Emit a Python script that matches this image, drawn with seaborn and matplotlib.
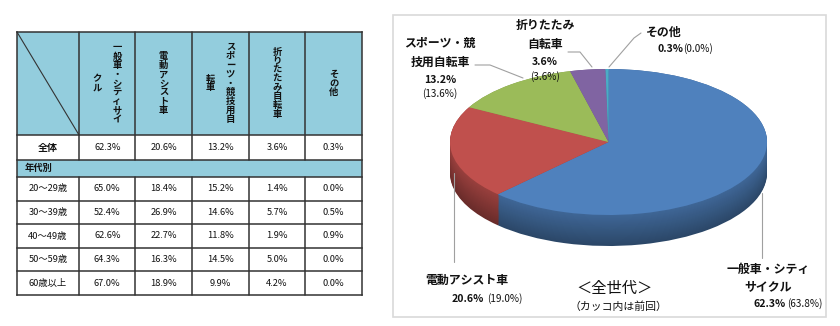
import numpy as np
import pandas as pd
import matplotlib
matplotlib.use("Agg")
import matplotlib.pyplot as plt
import seaborn as sns
from matplotlib.colors import ListedColormap, to_rgb
from matplotlib.patches import Rectangle

# ---------------- data ----------------
categories = ["一般車・シティサイクル", "電動アシスト車", "スポーツ・競技用自転車", "折りたたみ自転車", "その他"]
header_lines = [["一般車・シティサイ", "クル"], ["電動アシスト車"], ["スポーツ・競技用自", "転車"],
                ["折りたたみ自転車"], ["その他"]]
pie_names = ["一般車・シティ\nサイクル", "電動アシスト車", "スポーツ・競\n技用自転車", "折りたたみ\n自転車", "その他"]
overall = [62.3, 20.6, 13.2, 3.6, 0.3]
previous = [63.8, 19.0, 13.6, 3.6, 0.0]
age_groups = ["20～29歳", "30～39歳", "40～49歳", "50～59歳", "60歳以上"]
age_20s = [65.0, 18.4, 15.2, 1.4, 0.0]
age_30s = [52.4, 26.9, 14.6, 5.7, 0.5]
age_40s = [62.6, 22.7, 11.8, 1.9, 0.9]
age_50s = [64.3, 16.3, 14.5, 5.0, 0.0]
age_60s = [67.0, 18.9, 9.9, 4.2, 0.0]
row_all_label = "全体"
section_label = "年代別"
title = "＜全世代＞"
subtitle = "（カッコ内は前回）"

pie_colors = ["#4F81BD", "#C0504D", "#9BBB59", "#8064A2", "#4BACC6"]

# ---------------- setup ----------------
sns.set_theme(style="white")
plt.rcParams["font.family"] = ["Noto Sans CJK JP", "DejaVu Sans"]

W, H = 840, 326
fig = plt.figure(figsize=(W / 100, H / 100), dpi=100)
fig.patch.set_facecolor("white")


def px_axes(x0, y0, x1, y1):
    return fig.add_axes([x0 / W, 1 - y1 / H, (x1 - x0) / W, (y1 - y0) / H])


bg = px_axes(0, 0, W, H)
bg.set_xlim(0, W)
bg.set_ylim(H, 0)
bg.axis("off")

# ---------------- table ----------------
col_edges = [17, 79, 135, 192, 249, 305, 362]
y_top, y_head, y_all, y_age, y_bot = 32, 135, 160, 177, 295
row_h = (y_bot - y_age) / len(age_groups)
LC = "#333333"
HEAD = "#93CDDD"
LW = 1.1
TFS = 6.7
TXT = "#111111"

bg.add_patch(Rectangle((col_edges[0], y_top), col_edges[-1] - col_edges[0], y_head - y_top,
                       fc=HEAD, ec="none"))
bg.add_patch(Rectangle((col_edges[0], y_all), col_edges[-1] - col_edges[0], y_age - y_all,
                       fc=HEAD, ec="none"))

# vertical header text
for j, lines in enumerate(header_lines):
    cx = (col_edges[j + 1] + col_edges[j + 2]) / 2
    n = len(lines)
    sp = 20
    for k, line in enumerate(lines):
        x = cx + (n - 1) / 2 * sp - k * sp
        bg.text(x, (y_top + y_head) / 2, "\n".join(line), ha="center", va="center",
                fontsize=TFS, linespacing=0.98, color=TXT, fontweight="bold")

# label column
lx = (col_edges[0] + col_edges[1]) / 2
bg.text(lx, (y_head + y_all) / 2, row_all_label, ha="center", va="center", fontsize=TFS + 0.5,
        color=TXT, fontweight="bold")
bg.text(col_edges[0] + 8, (y_all + y_age) / 2, section_label, ha="left", va="center",
        fontsize=TFS, color=TXT, fontweight="bold")
for i, g in enumerate(age_groups):
    bg.text(lx, y_age + (i + 0.5) * row_h, g, ha="center", va="center", fontsize=TFS,
            color=TXT)

# data cells via seaborn heatmaps
white = ListedColormap(["white"])
df_all = pd.DataFrame([overall], index=[row_all_label], columns=categories)
df_age = pd.DataFrame([age_20s, age_30s, age_40s, age_50s, age_60s], index=age_groups, columns=categories)
for df, (y0, y1) in [(df_all, (y_head, y_all)), (df_age, (y_age, y_bot))]:
    axh = px_axes(col_edges[1], y0, col_edges[-1], y1)
    annot = df.map(lambda v: f"{v:.1f}%").values
    sns.heatmap(df, ax=axh, cmap=white, cbar=False, annot=annot, fmt="",
                linewidths=0, xticklabels=False, yticklabels=False,
                annot_kws={"fontsize": TFS, "color": TXT})
    axh.set_xlabel("")
    axh.set_ylabel("")

# ---------------- 3D-style pie ----------------
pie_ax = px_axes(450, 69, 767, 246)
thick = 2 * 31 / 146
layers = 34


def shade(c, f):
    return tuple(np.clip(np.array(to_rgb(c)) * f, 0, 1))


for i, k in enumerate(np.linspace(thick, 0, layers)):
    f = 0.55 + 0.25 * (i / (layers - 1))
    pie_ax.pie(overall, colors=[shade(c, f) for c in pie_colors], startangle=90,
               counterclock=False, center=(0, -k), radius=1,
               wedgeprops=dict(linewidth=0))
pie_ax.pie(overall, colors=pie_colors, startangle=90, counterclock=False,
           center=(0, 0), radius=1, wedgeprops=dict(linewidth=0))
pie_ax.set_aspect("auto")
pie_ax.set_xlim(-1, 1)
pie_ax.set_ylim(-1 - thick, 1)
pie_ax.axis("off")
pie_ax.patch.set_alpha(0)

# ---------------- overlay: table grid, frame, leaders, labels ----------------
ov = px_axes(0, 0, W, H)
ov.set_xlim(0, W)
ov.set_ylim(H, 0)
ov.axis("off")
ov.patch.set_alpha(0)

hlines = [y_top, y_head, y_all, y_age] + [y_age + i * row_h for i in range(1, len(age_groups) + 1)]
for y in hlines:
    ov.plot([col_edges[0], col_edges[-1]], [y, y], color=LC, lw=LW, solid_capstyle="projecting")
for i, x in enumerate(col_edges):
    if i in (0, len(col_edges) - 1):
        ov.plot([x, x], [y_top, y_bot], color=LC, lw=LW, solid_capstyle="projecting")
    else:
        ov.plot([x, x], [y_top, y_all], color=LC, lw=LW)
        ov.plot([x, x], [y_age, y_bot], color=LC, lw=LW)
ov.plot([col_edges[0], col_edges[1]], [y_top, y_head], color=LC, lw=0.8)

ov.add_patch(Rectangle((393, 15), 826 - 393, 317 - 15, fc="none", ec="#D9D9D9", lw=1.2))

LEAD = "#A0A0A0"
ov.plot([475, 490, 523], [65, 65, 78], color=LEAD, lw=0.8)
ov.plot([568, 580, 592], [52, 52, 67], color=LEAD, lw=0.8)
ov.plot([641, 634, 609], [33, 38, 67], color=LEAD, lw=0.8)
ov.plot([454, 454], [173, 262], color=LEAD, lw=0.8)
ov.plot([762, 762], [193, 258], color=LEAD, lw=0.8)

NFS, VFS, PFS = 8.6, 7.6, 7.2
# スポーツ・競技用自転車
ov.text(440, 53, pie_names[2], ha="center", va="center", fontsize=NFS, fontweight="bold",
        linespacing=1.6, color=TXT)
ov.text(440, 80, f"{overall[2]:.1f}%", ha="center", va="center", fontsize=VFS, fontweight="bold", color=TXT)
ov.text(440, 94, f"({previous[2]:.1f}%)", ha="center", va="center", fontsize=PFS, color=TXT)
# 折りたたみ自転車
ov.text(545, 35, pie_names[3], ha="center", va="center", fontsize=NFS, fontweight="bold",
        linespacing=1.6, color=TXT)
ov.text(545, 62, f"{overall[3]:.1f}%", ha="center", va="center", fontsize=VFS, fontweight="bold", color=TXT)
ov.text(545, 77, f"({previous[3]:.1f}%)", ha="center", va="center", fontsize=PFS, color=TXT)
# その他
ov.text(646, 32, pie_names[4], ha="left", va="center", fontsize=NFS, fontweight="bold", color=TXT)
ov.text(657, 49, f"{overall[4]:.1f}%", ha="left", va="center", fontsize=VFS, fontweight="bold", color=TXT)
ov.text(683, 49, f"({previous[4]:.1f}%)", ha="left", va="center", fontsize=PFS, color=TXT)
# 電動アシスト車
ov.text(425, 280, pie_names[1], ha="left", va="center", fontsize=NFS, fontweight="bold", color=TXT)
ov.text(452, 299, f"{overall[1]:.1f}%", ha="left", va="center", fontsize=VFS, fontweight="bold", color=TXT)
ov.text(487, 299, f"({previous[1]:.1f}%)", ha="left", va="center", fontsize=PFS, color=TXT)
# 一般車・シティサイクル
ov.text(768, 278, pie_names[0], ha="center", va="center", fontsize=NFS, fontweight="bold",
        linespacing=1.35, color=TXT)
ov.text(753, 304, f"{overall[0]:.1f}%", ha="left", va="center", fontsize=VFS, fontweight="bold", color=TXT)
ov.text(787, 304, f"({previous[0]:.1f}%)", ha="left", va="center", fontsize=PFS, color=TXT)
# title
ov.text(615, 288, title, ha="center", va="center", fontsize=11, color=TXT)
ov.text(618, 307, subtitle, ha="center", va="center", fontsize=7.8, color=TXT)

fig.savefig("out.png", dpi=100, facecolor="white")
